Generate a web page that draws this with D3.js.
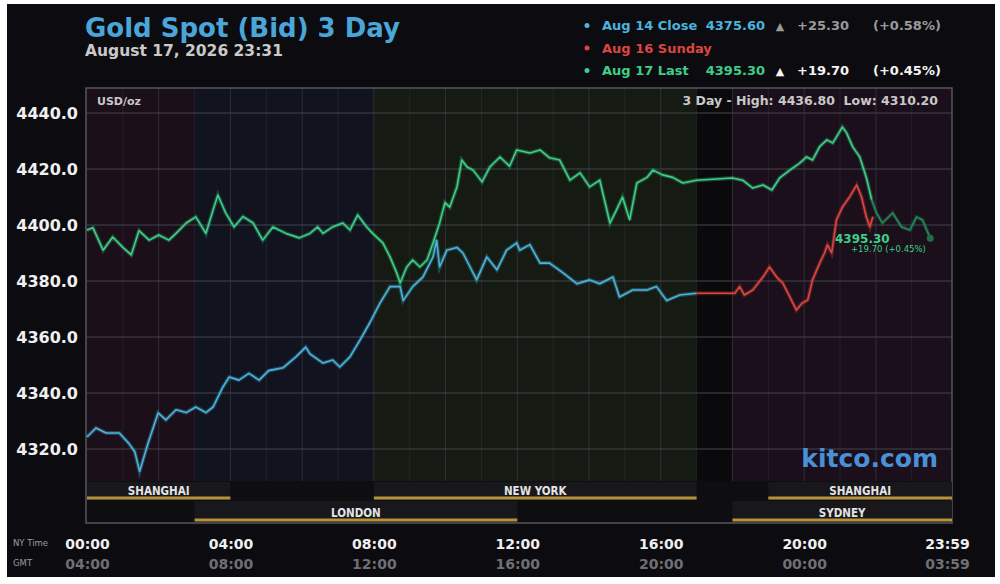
<!DOCTYPE html>
<html>
<head>
<meta charset="utf-8">
<script src="https://cdn.jsdelivr.net/npm/d3@7"></script>
<style>
	body { margin: 0; background: #fff; }
	svg text { font-family: "DejaVu Sans", sans-serif; font-weight: bold; }
</style>
</head>
<body>
<div id="chart"></div>
<script>
// values, times are NY time
var yTicks = [4320, 4340, 4360, 4380, 4400, 4420, 4440]
var nyTimeLabels = ["00:00", "04:00", "08:00", "12:00", "16:00", "20:00", "23:59"]
var gmtLabels = ["04:00", "08:00", "12:00", "16:00", "20:00", "00:00", "03:59"]

var aug14Close = [
	["00:00", 4324.3], ["00:15", 4327.5], ["00:32", 4325.7], ["00:54", 4325.7], ["01:10", 4322],
	["01:20", 4319], ["01:28", 4312], ["01:42", 4322], ["01:59", 4332.9], ["02:12", 4330.4],
	["02:29", 4334], ["02:46", 4333], ["03:02", 4335], ["03:19", 4333], ["03:31", 4335],
	["03:47", 4342], ["03:58", 4345.7], ["04:14", 4344.6], ["04:31", 4347], ["04:48", 4344.6],
	["05:04", 4348], ["05:28", 4349], ["05:50", 4353], ["06:06", 4356.4], ["06:13", 4354],
	["06:35", 4350.7], ["06:51", 4351.8], ["07:03", 4349.3], ["07:20", 4352.9], ["07:37", 4359],
	["07:53", 4365], ["08:10", 4372], ["08:27", 4378], ["08:44", 4378], ["08:49", 4373],
	["09:05", 4378], ["09:22", 4381.4], ["09:39", 4388.6], ["09:45", 4394.6], ["09:50", 4385],
	["10:02", 4391], ["10:19", 4392], ["10:29", 4390], ["10:41", 4385], ["10:52", 4380.4],
	["11:09", 4388.6], ["11:26", 4384], ["11:42", 4391], ["11:59", 4393.6], ["12:04", 4391],
	["12:21", 4393], ["12:38", 4386.4], ["12:54", 4386.4], ["13:16", 4383], ["13:40", 4379],
	["14:01", 4380.4], ["14:18", 4379], ["14:40", 4381.4], ["14:51", 4374.3], ["15:13", 4376.8],
	["15:37", 4376.8], ["15:53", 4378], ["16:10", 4373], ["16:32", 4375], ["17:00", 4375.6]
]

var aug16Sunday = [
	["17:00", 4375.6], ["18:04", 4375.6], ["18:12", 4378], ["18:20", 4375], ["18:34", 4376.8],
	["18:51", 4381.4], ["19:02", 4385], ["19:14", 4381.4], ["19:24", 4379.3], ["19:36", 4374.3],
	["19:47", 4369.6], ["19:56", 4372], ["20:06", 4373.2], ["20:14", 4380.4], ["20:26", 4386.4],
	["20:34", 4390], ["20:39", 4392.9], ["20:46", 4390], ["20:54", 4401.8], ["21:04", 4406.4],
	["21:16", 4410], ["21:28", 4414.3], ["21:36", 4410], ["21:44", 4402.9], ["21:50", 4399.3],
	["21:55", 4403]
]

var aug17Last = [
	["00:00", 4398.2], ["00:10", 4399], ["00:27", 4391], ["00:43", 4395.7], ["01:00", 4392],
	["01:14", 4389.3], ["01:27", 4398], ["01:44", 4394.6], ["02:00", 4396.4], ["02:17", 4394.6],
	["02:29", 4397], ["02:46", 4400.7], ["03:02", 4402.9], ["03:19", 4397], ["03:31", 4405.4],
	["03:39", 4410.7], ["03:52", 4404.3], ["04:06", 4399.3], ["04:21", 4403], ["04:38", 4400.7],
	["04:54", 4394.6], ["05:11", 4399.3], ["05:33", 4397], ["05:55", 4395.4], ["06:13", 4397],
	["06:26", 4399.3], ["06:35", 4397], ["06:51", 4399.3], ["07:08", 4400.7], ["07:20", 4398.2],
	["07:33", 4403.6], ["07:48", 4399.3], ["07:58", 4397], ["08:15", 4393.6], ["08:27", 4388.6],
	["08:38", 4383], ["08:44", 4379.3], ["08:55", 4385], ["09:05", 4387.5], ["09:17", 4385],
	["09:29", 4387.5], ["09:39", 4393.6], ["09:50", 4400.7], ["09:59", 4408], ["10:07", 4406.4],
	["10:19", 4413.6], ["10:27", 4423.2], ["10:36", 4420.7], ["10:46", 4419.6], ["11:01", 4415.4],
	["11:14", 4420.7], ["11:31", 4424.3], ["11:47", 4421], ["11:59", 4426.8], ["12:21", 4425.7],
	["12:38", 4426.8], ["12:54", 4424], ["13:11", 4423.2], ["13:28", 4416], ["13:45", 4418.6],
	["14:01", 4413.6], ["14:18", 4416], ["14:35", 4400.7], ["14:46", 4405.4], ["14:56", 4410],
	["15:08", 4401.8], ["15:20", 4415], ["15:37", 4417], ["15:47", 4419.6], ["16:03", 4417.9],
	["16:20", 4417], ["16:37", 4415], ["17:00", 4416], ["18:00", 4416.8], ["18:17", 4416],
	["18:34", 4413.2], ["18:51", 4414.3], ["19:06", 4412.5], ["19:19", 4416.8], ["19:36", 4419.6],
	["19:52", 4422], ["20:04", 4424.3], ["20:14", 4423.2], ["20:26", 4428], ["20:38", 4430.4],
	["20:48", 4429.3], ["21:04", 4435], ["21:11", 4432.9], ["21:21", 4428], ["21:33", 4424.3],
	["21:44", 4417], ["21:53", 4409], ["22:01", 4404.3], ["22:11", 4400.7], ["22:28", 4404.3],
	["22:43", 4399.3], ["22:57", 4398.2], ["23:08", 4402.9], ["23:18", 4401.8], ["23:31", 4395.3]
]
var tailStart = "21:53"

// background shading of the trading sessions
var bandStart = ["00:00", "03:00", "08:00", "17:00", "18:00"]
var bandEnd = ["03:00", "08:00", "17:00", "18:00", "23:59"]

// session bars under the plot
var sessionNames = ["SHANGHAI", "LONDON", "NEW YORK", "SYDNEY", "SHANGHAI"]
var sessionOpen = ["00:00", "03:00", "08:00", "18:00", "19:00"]
var sessionClose = ["04:00", "12:00", "17:00", "23:59", "23:59"]
var sessionRow = [0, 1, 0, 1, 0]

var legendNames = ["Aug 14 Close", "Aug 16 Sunday", "Aug 17 Last"]
var legendPrice = ["4375.60", "", "4395.30"]
var legendChange = ["+25.30", "", "+19.70"]
var legendPct = ["(+0.58%)", "", "(+0.45%)"]

var width = 1000,
	height = 584

var frame = { left: 86, top: 88, right: 952, bottom: 523 }
var plotBottom = 481

var blue = '#4ab4dc',
	red = '#dc4540',
	green = '#3dcf88'

var bandColors = ['#1b0f19', '#11131f', '#151a12', '#0a0a0c', '#1a0f1a']

var parseTime = d3.timeParse("%H:%M")

var svg = d3.select('#chart').append('svg')
	.attr('width', width)
	.attr('height', height)

svg.append('rect')
	.attr('x', 7)
	.attr('y', 4)
	.attr('width', 988)
	.attr('height', 573)
	.attr('fill', '#0c0c10')

var x = d3.scaleTime()
	.domain([parseTime("00:00"), parseTime("23:59")])
	.range([87, 947])

var y = d3.scaleLinear()
	.domain([4320, 4440])
	.range([449, 113])

// x position, but anything ending the day is pushed out to the frame edge
function xEdge(t) {
	return t == "23:59" ? frame.right : x(parseTime(t))
}

// session strip under the plot
svg.append('rect')
	.attr('x', frame.left)
	.attr('y', plotBottom)
	.attr('width', frame.right - frame.left)
	.attr('height', frame.bottom - plotBottom)
	.attr('fill', '#0e0e11')

// session bands
svg.append('g').selectAll('rect')
	.data(bandStart)
	.enter().append('rect')
	.attr('x', function (d, i) { return i == 0 ? frame.left : x(parseTime(d)) })
	.attr('y', frame.top)
	.attr('width', function (d, i) {
		var x0 = i == 0 ? frame.left : x(parseTime(d))
		return xEdge(bandEnd[i]) - x0
	})
	.attr('height', plotBottom - frame.top)
	.attr('fill', function (d, i) { return bandColors[i] })

// grid
var hours = d3.range(1, 24).map(function (h) { return parseTime(d3.format("02")(h) + ":00") })
svg.append('g').selectAll('line')
	.data(hours)
	.enter().append('line')
	.attr('x1', function (d) { return x(d) })
	.attr('x2', function (d) { return x(d) })
	.attr('y1', frame.top)
	.attr('y2', plotBottom)
	.attr('stroke', '#3a3a46')
	.attr('stroke-opacity', function (d, i) { return (i + 1) % 2 == 0 ? 0.75 : 0.4 })
	.attr('stroke-width', 1)

svg.append('g').selectAll('line')
	.data(yTicks)
	.enter().append('line')
	.attr('x1', frame.left)
	.attr('x2', frame.right)
	.attr('y1', function (d) { return y(d) })
	.attr('y2', function (d) { return y(d) })
	.attr('stroke', '#44444f')
	.attr('stroke-width', 1)

// frame
svg.append('rect')
	.attr('x', frame.left)
	.attr('y', frame.top)
	.attr('width', frame.right - frame.left)
	.attr('height', frame.bottom - frame.top)
	.attr('fill', 'none')
	.attr('stroke', '#55555f')
	.attr('stroke-width', 1.5)

// y axis
var yAxis = d3.axisLeft(y)
	.tickValues(yTicks)
	.tickFormat(d3.format(".1f"))
	.tickSize(0)
	.tickPadding(8)

var yg = svg.append('g')
	.attr('transform', 'translate(' + frame.left + ',0)')
	.call(yAxis)
yg.select('.domain').remove()
yg.selectAll('text')
	.attr('fill', '#f0f0f0')
	.style('font-size', '16px')
	.style('font-family', '"DejaVu Sans", sans-serif')
	.style('font-weight', 'bold')

// x axis, NY time and GMT rows
function timeAxis(labels, yPos, color) {
	var axis = d3.axisBottom(x)
		.tickValues(nyTimeLabels.map(parseTime))
		.tickFormat(function (d, i) { return labels[i] })
		.tickSize(0)
	var g = svg.append('g')
		.attr('transform', 'translate(0,' + yPos + ')')
		.call(axis)
	g.select('.domain').remove()
	g.selectAll('text')
		.attr('y', 0)
		.attr('dy', 0)
		.attr('fill', color)
		.style('font-size', '14px')
		.style('font-family', '"DejaVu Sans", sans-serif')
		.style('font-weight', 'bold')
}
timeAxis(nyTimeLabels, 549, '#f0f0f0')
timeAxis(gmtLabels, 569, '#6f6f74')

svg.append('text').attr('x', 13).attr('y', 546)
	.attr('fill', '#9a9aa0').style('font-size', '8.5px').style('font-weight', 'normal')
	.text('NY Time')
svg.append('text').attr('x', 13).attr('y', 566)
	.attr('fill', '#9a9aa0').style('font-size', '8.5px').style('font-weight', 'normal')
	.text('GMT')

// session bars
var sessions = svg.append('g').selectAll('g')
	.data(sessionNames)
	.enter().append('g')

sessions.append('rect')
	.attr('x', function (d, i) { return x(parseTime(sessionOpen[i])) })
	.attr('y', function (d, i) { return sessionRow[i] == 0 ? 482 : 501 })
	.attr('width', function (d, i) { return xEdge(sessionClose[i]) - x(parseTime(sessionOpen[i])) })
	.attr('height', 18)
	.attr('fill', '#18181c')

sessions.append('rect')
	.attr('x', function (d, i) { return x(parseTime(sessionOpen[i])) })
	.attr('y', function (d, i) { return sessionRow[i] == 0 ? 496.5 : 518.5 })
	.attr('width', function (d, i) { return xEdge(sessionClose[i]) - x(parseTime(sessionOpen[i])) })
	.attr('height', 3)
	.attr('fill', '#b8923a')

sessions.append('text')
	.attr('x', function (d, i) { return (x(parseTime(sessionOpen[i])) + xEdge(sessionClose[i])) / 2 })
	.attr('y', function (d, i) { return sessionRow[i] == 0 ? 495 : 517 })
	.attr('text-anchor', 'middle')
	.attr('fill', '#e4e4e4')
	.style('font-size', '11.5px')
	.style('font-family', '"DejaVu Sans Condensed", "DejaVu Sans", sans-serif')
	.text(function (d) { return d })

// price lines
var line = d3.line()
	.x(function (d) { return x(parseTime(d[0])) })
	.y(function (d) { return y(d[1]) })

function drawLine(data, color) {
	svg.append('path')
		.datum(data)
		.attr('d', line)
		.attr('fill', 'none')
		.attr('stroke', color)
		.attr('stroke-opacity', 0.3)
		.attr('stroke-width', 4)
	svg.append('path')
		.datum(data)
		.attr('d', line)
		.attr('fill', 'none')
		.attr('stroke', color)
		.attr('stroke-width', 1.6)
		.attr('stroke-linejoin', 'round')
}

var tailIndex = aug17Last.findIndex(function (d) { return d[0] == tailStart })

drawLine(aug14Close, blue)
drawLine(aug16Sunday, red)
drawLine(aug17Last.slice(0, tailIndex + 1), green)
drawLine(aug17Last.slice(tailIndex), '#23895a')

var lastPoint = aug17Last[aug17Last.length - 1]
svg.append('circle')
	.attr('cx', x(parseTime(lastPoint[0])))
	.attr('cy', y(lastPoint[1]))
	.attr('r', 3.5)
	.attr('fill', '#1f6e46')

svg.append('text')
	.attr('x', 835).attr('y', 243)
	.attr('fill', green)
	.style('font-size', '12px')
	.text(legendPrice[2])
svg.append('text')
	.attr('x', 851).attr('y', 252)
	.attr('fill', green)
	.style('font-size', '8.5px')
	.style('font-weight', 'normal')
	.text(legendChange[2] + ' ' + legendPct[2])

// plot captions
svg.append('text')
	.attr('x', 97).attr('y', 105)
	.attr('fill', '#c8c8c8')
	.style('font-size', '11px')
	.text('USD/oz')

svg.append('text')
	.attr('x', 938).attr('y', 105)
	.attr('text-anchor', 'end')
	.attr('fill', '#c8c8c8')
	.style('font-size', '12.5px')
	.attr('xml:space', 'preserve')
	.text('3 Day - High: 4436.80  Low: 4310.20')

svg.append('text')
	.attr('x', 938).attr('y', 467)
	.attr('text-anchor', 'end')
	.attr('fill', '#4a90d6')
	.style('font-size', '25px')
	.text('kitco.com')

// title
svg.append('text')
	.attr('x', 85).attr('y', 37)
	.attr('fill', '#4aa6d8')
	.style('font-size', '26px')
	.text('Gold Spot (Bid) 3 Day')

svg.append('text')
	.attr('x', 85).attr('y', 56)
	.attr('fill', '#c9c9c9')
	.style('font-size', '15.5px')
	.text('August 17, 2026 23:31')

// legend
var legendColors = [blue, red, green]
var legendInk = ['#9a9a9a', '#9a9a9a', '#f4f4f4']
var legend = svg.append('g').selectAll('g')
	.data(legendNames)
	.enter().append('g')
	.attr('transform', function (d, i) { return 'translate(0,' + (30 + i * 22.5) + ')' })

legend.append('circle')
	.attr('cx', 587).attr('cy', -4.5).attr('r', 2.5)
	.attr('fill', function (d, i) { return legendColors[i] })

legend.append('text')
	.attr('x', 602)
	.attr('fill', function (d, i) { return legendColors[i] })
	.style('font-size', '13px')
	.text(function (d) { return d })

legend.append('text')
	.attr('x', 765)
	.attr('text-anchor', 'end')
	.attr('fill', function (d, i) { return legendColors[i] })
	.style('font-size', '13px')
	.text(function (d, i) { return legendPrice[i] })

legend.append('text')
	.attr('x', 780)
	.attr('text-anchor', 'middle')
	.attr('fill', function (d, i) { return legendInk[i] })
	.style('font-size', '11px')
	.text(function (d, i) { return legendChange[i] ? '\u25B2' : '' })

legend.append('text')
	.attr('x', 797)
	.attr('fill', function (d, i) { return legendInk[i] })
	.style('font-size', '13px')
	.text(function (d, i) { return legendChange[i] })

legend.append('text')
	.attr('x', 873)
	.attr('fill', function (d, i) { return legendInk[i] })
	.style('font-size', '13px')
	.text(function (d, i) { return legendPct[i] })
</script>
</body>
</html>
